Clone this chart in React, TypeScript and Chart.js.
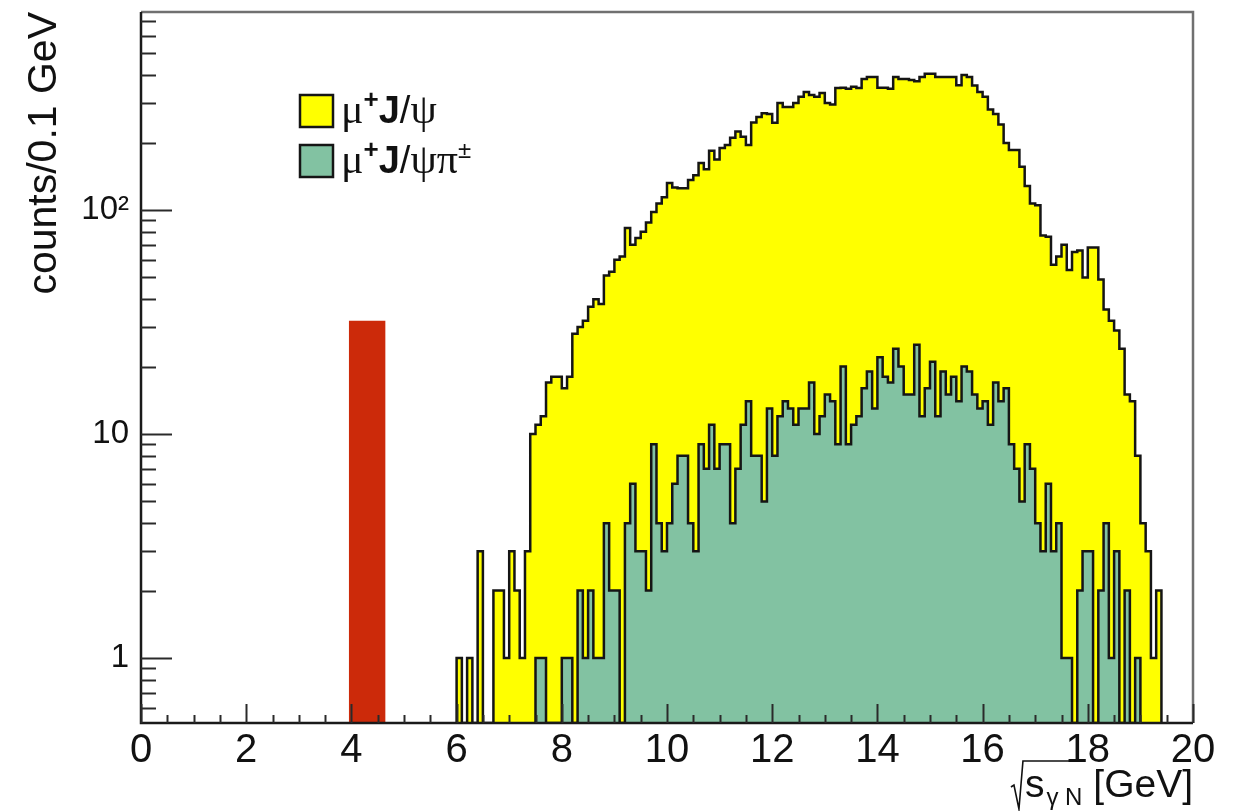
import React, { useEffect, useRef } from 'react';
import { Chart, registerables } from 'chart.js';

Chart.register(...registerables);

// ---------------- data ----------------
const BIN_WIDTH = 0.1;
const X_MIN = 0;
const X_MAX = 20;
const Y_MIN = 0.513;
const Y_MAX = 765;

const xTickValues = [0, 2, 4, 6, 8, 10, 12, 14, 16, 18, 20];
const xTickLabels = ['0', '2', '4', '6', '8', '10', '12', '14', '16', '18', '20'];
const yTickValues = [1, 10, 100];
const yTickLabels = ['1', '10', '10\u00B2'];

const yTitle = 'counts/0.1 GeV';

// mu+ J/psi, 0.1 GeV bins starting at 6.0 GeV
const jpsiFirstBin = 6.0;
const jpsiCounts = [
  1, 0, 1, 0, 3, 0, 0, 2, 2, 1,
  3, 2, 1, 3, 10, 11, 12, 17, 18, 18,
  16, 18, 28, 30, 32, 37, 40, 38, 51, 53,
  60, 62, 83, 70, 75, 80, 88, 98, 107, 114,
  132, 126, 125, 125, 136, 143, 162, 152, 184, 168,
  189, 195, 210, 224, 212, 195, 246, 260, 270, 268,
  245, 300, 288, 288, 300, 320, 336, 326, 320, 333,
  300, 296, 350, 351, 348, 355, 350, 384, 392, 392,
  351, 351, 348, 392, 384, 384, 380, 375, 392, 406,
  406, 392, 392, 392, 392, 360, 400, 392, 359, 336,
  320, 281, 268, 241, 199, 185, 185, 156, 128, 107,
  105, 77, 76, 57, 62, 70, 54, 65, 66, 50,
  68, 68, 49, 36, 32, 29, 24, 15, 14, 8,
  4, 3, 1, 2,
];

// mu+ J/psi pi+-, 0.1 GeV bins starting at 7.5 GeV
const jpsiPiFirstBin = 7.5;
const jpsiPiCounts = [
  1, 1, 0, 0, 0,
  1, 1, 0, 2, 1, 2, 1, 1, 4, 2,
  2, 0, 4, 6, 3, 3, 2, 9, 4, 3,
  4, 6, 8, 8, 4, 3, 9, 7, 11, 7,
  9, 9, 4, 7, 11, 14, 8, 8, 5, 13,
  8, 12, 14, 13, 11, 13, 13, 17, 10, 12,
  15, 14, 9, 20, 9, 11, 12, 16, 19, 13,
  22, 18, 17, 24, 20, 15, 15, 25, 12, 16,
  21, 12, 19, 15, 18, 14, 20, 19, 15, 13,
  14, 11, 17, 14, 16, 9, 7, 5, 9, 7,
  4, 3, 6, 3, 4, 1, 1, 0, 2, 3,
  3, 0, 2, 4, 1, 3, 0, 2, 0, 1,
];

// red marker block
const markerLow = 3.95;
const markerHigh = 4.65;
const markerCount = 32;

const legendNames = ['\u03BC\u207AJ/\u03C8', '\u03BC\u207AJ/\u03C8\u03C0\u00B1'];

// ---------------- styles ----------------
const SANS = "'Liberation Sans', Arial, Helvetica, sans-serif";
const SERIF = "'Liberation Serif', 'DejaVu Serif', serif";
const YELLOW = '#ffff00';
const GREEN = '#82c2a2';
const RED = '#cc2a0a';
const LINE = '#151515';

function histPoints(first: number, counts: number[], width: number) {
  const pts: { x: number; y: number }[] = [];
  pts.push({ x: first, y: Y_MIN });
  counts.forEach((c, i) => {
    pts.push({ x: +(first + i * width).toFixed(4), y: c > 0 ? c : Y_MIN });
  });
  pts.push({ x: +(first + counts.length * width).toFixed(4), y: Y_MIN });
  return pts;
}

type Part = { t: string; font: string; dy?: number };

function drawParts(ctx: CanvasRenderingContext2D, x: number, y: number, parts: Part[]) {
  let cx = x;
  for (const p of parts) {
    ctx.font = p.font;
    ctx.fillText(p.t, cx, y + (p.dy || 0));
    cx += ctx.measureText(p.t).width;
  }
  return cx;
}

function legendParts(name: string): Part[] {
  const parts: Part[] = [];
  for (const ch of name) {
    if (ch === '\u207A') parts.push({ t: '+', font: `bold 26px ${SANS}`, dy: -15 });
    else if (ch === '\u00B1') parts.push({ t: '\u00B1', font: `24px ${SANS}`, dy: -15 });
    else if (ch === 'J') parts.push({ t: 'J', font: `bold 38px ${SANS}` });
    else if (ch === '/') parts.push({ t: '/', font: `38px ${SANS}` });
    else parts.push({ t: ch, font: `42px ${SERIF}` });
  }
  return parts;
}

const rootPlugin = {
  id: 'rootDecor',
  afterDatasetsDraw(chart: any) {
    const { ctx, chartArea: a, scales } = chart;
    const xs = scales.x;
    const ys = scales.y;
    ctx.save();
    // frame (top/right)
    ctx.strokeStyle = '#707070';
    ctx.lineWidth = 2.5;
    ctx.beginPath();
    ctx.moveTo(a.left, a.top);
    ctx.lineTo(a.right, a.top);
    ctx.lineTo(a.right, a.bottom);
    ctx.stroke();
    // axes
    ctx.strokeStyle = '#1a1a1a';
    ctx.lineWidth = 2.5;
    ctx.beginPath();
    ctx.moveTo(a.left, a.top);
    ctx.lineTo(a.left, a.bottom);
    ctx.lineTo(a.right, a.bottom);
    ctx.stroke();
    // y ticks (inside)
    ctx.lineWidth = 2;
    ctx.strokeStyle = '#2a2a2a';
    for (let e = -1; e <= 3; e++) {
      for (let m = 1; m <= 9; m++) {
        const v = m * Math.pow(10, e);
        if (v < Y_MIN || v > Y_MAX) continue;
        const py = Math.round(ys.getPixelForValue(v)) + 0.5;
        const len = m === 1 ? 31 : 15;
        ctx.beginPath();
        ctx.moveTo(a.left, py);
        ctx.lineTo(a.left + len, py);
        ctx.stroke();
      }
    }
    // x ticks (inside)
    for (let k = 0; k <= 40; k++) {
      const v = k * 0.5;
      const px = Math.round(xs.getPixelForValue(v)) + 0.5;
      const len = k % 4 === 0 ? 19 : 8;
      ctx.beginPath();
      ctx.moveTo(px, a.bottom);
      ctx.lineTo(px, a.bottom - len);
      ctx.stroke();
    }

    // legend
    const colors = [YELLOW, GREEN];
    legendNames.forEach((name, i) => {
      const by = 95 + i * 50;
      ctx.fillStyle = colors[i];
      ctx.fillRect(300, by, 33, 32);
      ctx.strokeStyle = LINE;
      ctx.lineWidth = 2.5;
      ctx.strokeRect(300, by, 33, 32);
      ctx.fillStyle = '#111';
      ctx.textAlign = 'left';
      ctx.textBaseline = 'alphabetic';
      drawParts(ctx, 341, by + 28, legendParts(name));
    });

    // x axis title: sqrt(s_{gamma N}) [GeV]
    ctx.fillStyle = '#111';
    ctx.textBaseline = 'alphabetic';
    ctx.textAlign = 'left';
    const base = 797;
    ctx.font = `39px ${SANS}`;
    const wUnit = ctx.measureText(' [GeV]').width;
    const wS = ctx.measureText('s').width;
    ctx.font = `24px ${SANS}`;
    const wSub = ctx.measureText('\u03B3 N').width;
    const rad = 14;
    const total = rad + wS + 2 + wSub + wUnit;
    let sx = a.right - total;
    ctx.strokeStyle = '#111';
    ctx.lineWidth = 1.6;
    ctx.beginPath();
    ctx.moveTo(sx, base - 10);
    ctx.lineTo(sx + 3, base - 12);
    ctx.lineTo(sx + 8, base + 12);
    ctx.lineTo(sx + 12, base - 36);
    ctx.lineTo(sx + rad + wS + 2 + wSub + 2, base - 36);
    ctx.stroke();
    sx += rad;
    ctx.font = `39px ${SANS}`;
    ctx.fillText('s', sx, base);
    sx += wS + 2;
    ctx.font = `24px ${SANS}`;
    ctx.fillText('\u03B3 N', sx, base + 8);
    sx += wSub;
    ctx.font = `39px ${SANS}`;
    ctx.fillText(' [GeV]', sx, base);
    ctx.restore();
  },
};

export default function App() {
  const ref = useRef<HTMLCanvasElement | null>(null);

  useEffect(() => {
    if (!ref.current) return;
    const chart = new Chart(ref.current, {
      type: 'line',
      data: {
        datasets: [
          {
            label: legendNames[0],
            data: histPoints(jpsiFirstBin, jpsiCounts, BIN_WIDTH),
            stepped: true,
            fill: 'start',
            backgroundColor: YELLOW,
            borderColor: LINE,
            borderWidth: 2.5,
            pointRadius: 0,
            order: 3,
          },
          {
            label: legendNames[1],
            data: histPoints(jpsiPiFirstBin, jpsiPiCounts, BIN_WIDTH),
            stepped: true,
            fill: 'start',
            backgroundColor: GREEN,
            borderColor: LINE,
            borderWidth: 2.5,
            pointRadius: 0,
            order: 2,
          },
          {
            label: 'marker',
            data: histPoints(markerLow, [markerCount], markerHigh - markerLow),
            stepped: true,
            fill: 'start',
            backgroundColor: RED,
            borderColor: RED,
            borderWidth: 0,
            pointRadius: 0,
            order: 1,
          },
        ],
      },
      options: {
        responsive: false,
        animation: false,
        devicePixelRatio: 1,
        events: [],
        layout: { padding: { top: 12, right: 43, left: 0, bottom: 0 } },
        plugins: {
          legend: { display: false },
          tooltip: { enabled: false },
        },
        scales: {
          x: {
            type: 'linear',
            min: X_MIN,
            max: X_MAX,
            grid: { display: false, drawTicks: false },
            border: { display: false },
            afterBuildTicks: (s: any) => {
              s.ticks = xTickValues.map((v) => ({ value: v }));
            },
            afterFit: (s: any) => {
              s.height = 88;
              s.paddingLeft = 0;
              s.paddingRight = 0;
            },
            ticks: {
              autoSkip: false,
              maxRotation: 0,
              padding: 4,
              color: '#111',
              font: { family: SANS, size: 40 },
              callback: (v: any) => {
                const i = xTickValues.indexOf(Number(v));
                return i >= 0 ? xTickLabels[i] : '';
              },
            },
          },
          y: {
            type: 'logarithmic',
            min: Y_MIN,
            max: Y_MAX,
            grid: { display: false, drawTicks: false },
            border: { display: false },
            afterBuildTicks: (s: any) => {
              s.ticks = yTickValues.map((v) => ({ value: v }));
            },
            afterFit: (s: any) => {
              s.width = 141;
              s.paddingTop = 0;
              s.paddingBottom = 0;
            },
            ticks: {
              autoSkip: false,
              padding: 12,
              color: '#111',
              font: { family: SANS, size: 33 },
              callback: (v: any) => {
                const i = yTickValues.indexOf(Number(v));
                return i >= 0 ? yTickLabels[i] : '';
              },
            },
            title: {
              display: true,
              text: yTitle,
              align: 'end',
              color: '#111',
              font: { family: SANS, size: 41 },
              padding: { top: 20, bottom: 0 },
            },
          },
        },
      },
      plugins: [rootPlugin],
    } as any);
    return () => chart.destroy();
  }, []);

  return (
    <div style={{ position: 'absolute', left: 0, top: 0, width: 1236, height: 811, background: '#fff' }}>
      <canvas ref={ref} width={1236} height={811} style={{ display: 'block' }} />
    </div>
  );
}
